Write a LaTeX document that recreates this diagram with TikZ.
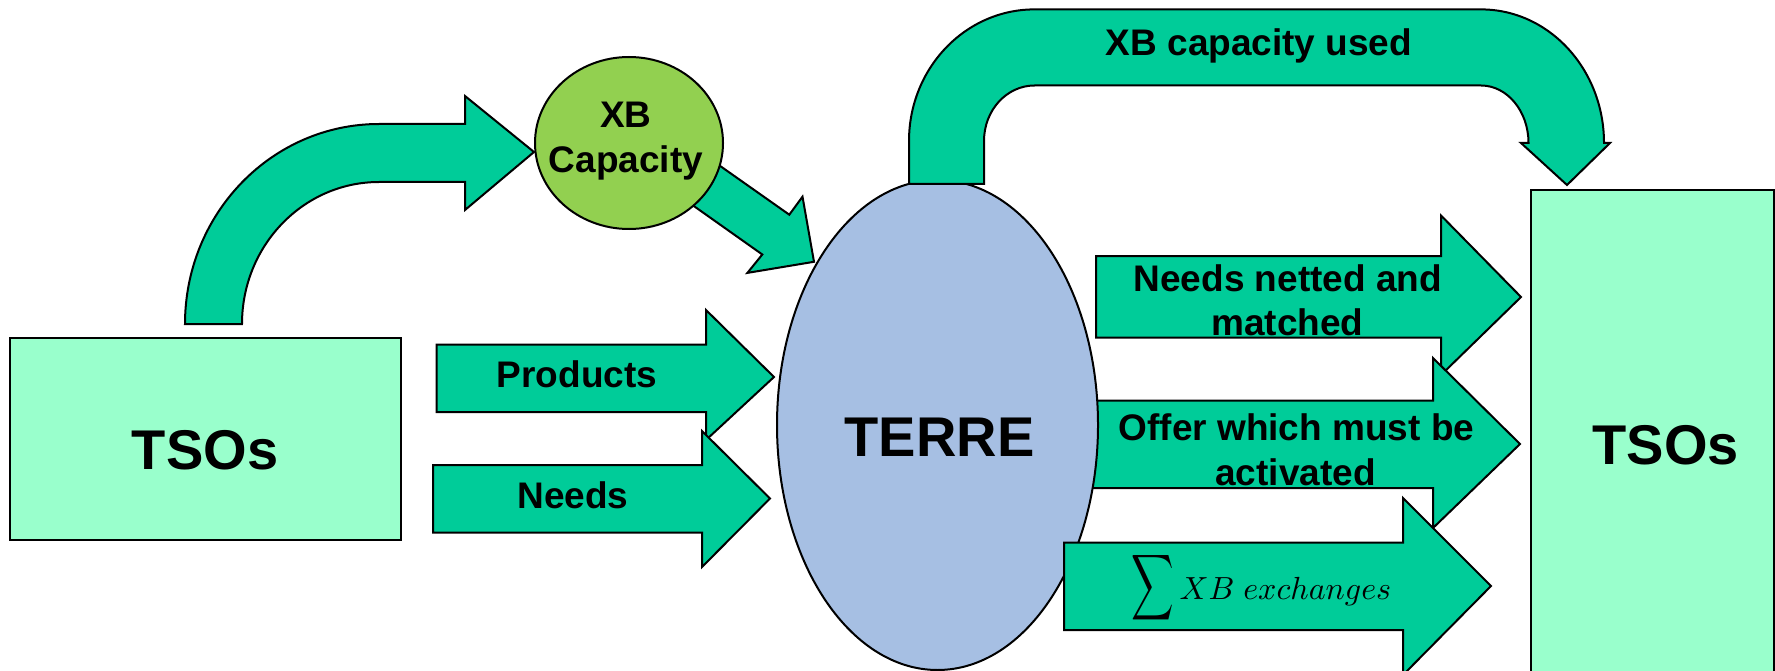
\documentclass[tikz,border=0pt]{standalone}
\usepackage{fontspec}
\setmainfont{Liberation Sans}
\usepackage{graphicx}
\usetikzlibrary{shapes.geometric}
\definecolor{arrowfill}{HTML}{00CC99}
\definecolor{boxfill}{HTML}{99FFCC}
\definecolor{capfill}{HTML}{92D050}
\definecolor{terrefill}{HTML}{A6BFE3}
\begin{document}
\begin{tikzpicture}[x=1pt,y=-1pt,line width=2pt,
  blockarrow/.style={draw=black,fill=arrowfill,line join=miter,miter limit=10},
  lbl/.style={anchor=base,inner sep=0pt,font=\fontsize{37}{44}\selectfont\bfseries},
  biglbl/.style={anchor=base,inner sep=0pt,font=\fontsize{56}{66}\selectfont\bfseries},
  tsobox/.style={draw=black,fill=boxfill,inner sep=0pt,rectangle}]
\useasboundingbox (0,0) rectangle (1775,671);
\clip (0,0) rectangle (1775,671);
\fill[white] (0,0) rectangle (1775,671);

% curved arrow TSOs -> XB Capacity
\draw[blockarrow] (185,324) .. controls (185,213.5) and (271.9,124) .. (379,124)
  -- (465,124) -- (465,96) -- (534,152) -- (465,210) -- (465,182) -- (379,182)
  .. controls (303.3,182) and (242,245.6) .. (242,324) -- cycle;

% diagonal arrow XB Capacity -> TERRE
\draw[blockarrow] (704,154.6) -- (789.3,214.7) -- (802.5,196.7) -- (814,261.8)
  -- (747.4,272.9) -- (762.3,254.5) -- (675.4,193) -- cycle;

\node[ellipse,draw=black,fill=capfill,minimum width=188pt,minimum height=172pt,inner sep=0pt] (xbcap) at (629,143) {};

% Products, Needs
\draw[blockarrow] (436.5,344.5) -- (706,344.5) -- (706,310) -- (774,377) -- (706,440) -- (706,412) -- (436.5,412) -- cycle;
\draw[blockarrow] (433,465) -- (702,465) -- (702,431) -- (770,498.5) -- (702,567) -- (702,532.5) -- (433,532.5) -- cycle;

% Needs netted, Offer
\draw[blockarrow] (1096,256) -- (1441,256) -- (1441,215.5) -- (1521,297) -- (1441,375) -- (1441,337.5) -- (1096,337.5) -- cycle;
\draw[blockarrow] (1088,400.5) -- (1433,400.5) -- (1433,358) -- (1520,444) -- (1433,528) -- (1433,488) -- (1088,488) -- cycle;

\node[ellipse,draw=black,fill=terrefill,minimum width=321pt,minimum height=490pt,inner sep=0pt] (terre) at (937.5,425) {};

% U-turn arrow: XB capacity used
\draw[blockarrow] (909,184) -- (909,141) .. controls (909,68.3) and (965.2,9.4) .. (1034.5,9.4)
  -- (1481,9.4) .. controls (1548.9,9.4) and (1604,69.2) .. (1604,143)
  -- (1610,143) -- (1567,185) -- (1521,143) -- (1528.5,143)
  .. controls (1528.5,111.2) and (1507.2,85.5) .. (1481,85.5)
  -- (1034.5,85.5) .. controls (1006.6,85.5) and (984,110.3) .. (984,141)
  -- (984,184) -- cycle;

% Sum XB exchanges arrow
\draw[blockarrow] (1064,542.5) -- (1403,542.5) -- (1403,498) -- (1491,586) -- (1403,675) -- (1403,630) -- (1064,630) -- cycle;

% TSO boxes
\node[tsobox,minimum width=390.4pt,minimum height=202pt] (tsoleft) at (205.5,439) {};
\node[tsobox,minimum width=243pt,minimum height=510pt] (tsoright) at (1652.5,445) {};

% texts
\node[biglbl] (tleft) at (205,469) {TSOs};
\node[biglbl] (tright) at (1665.7,464) {TSOs};
\node[biglbl] (tterre) at (939.5,456) {TERRE};
\node[lbl] (txb1) at (626,128) {XB};
\node[lbl] (txb2) at (626,173) {Capacity};
\node[lbl] (tprod) at (577,387) {Products};
\node[lbl] (tneeds) at (573,508) {Needs};
\node[lbl] (tused) at (1259,55.6) {XB capacity used};
\node[lbl] (tnet1) at (1287.8,291.7) {Needs netted and};
\node[lbl] (tnet2) at (1287.5,335.8) {matched};
\node[lbl] (toff1) at (1296.4,440.5) {Offer which must be};
\node[lbl] (toff2) at (1295.6,485.5) {activated};
\node[anchor=base west,inner sep=0pt] (tsum) at (1130,599)
  {\scalebox{2.95}[4.6]{$\displaystyle\sum$}\hspace{6pt}\scalebox{3.2}{$XB\ exchanges$}};
\end{tikzpicture}
\end{document}
